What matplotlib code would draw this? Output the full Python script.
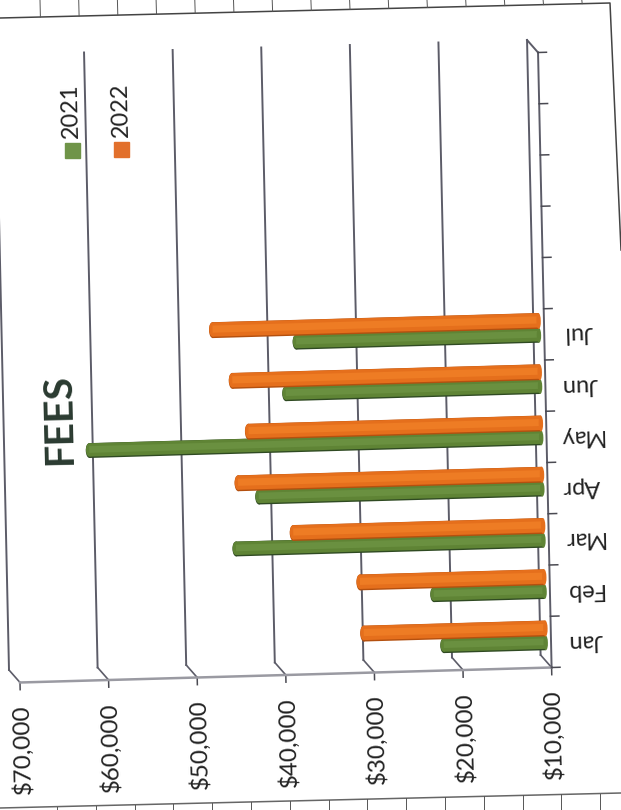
import numpy as np
import matplotlib
matplotlib.use('Agg')
import matplotlib.pyplot as plt
from matplotlib.patches import Ellipse
from matplotlib.transforms import Affine2D

# scanned page, chart sits on its side so everything goes through a skewed transform
months = ['Jan', 'Feb', 'Mar', 'Apr', 'May', 'Jun', 'Jul']
fees_2021 = [21500, 22500, 44700, 42000, 61000, 38700, 37400]
fees_2022 = [30500, 30800, 38200, 44300, 43000, 44700, 46800]
value_ticks = [10000, 20000, 30000, 40000, 50000, 60000, 70000]
n_slots = 12

plt.rcParams['font.family'] = ['Lato', 'DejaVu Sans']

fig = plt.figure(figsize=(6.21, 8.10), dpi=100)
ax = fig.add_axes([0, 0, 1, 1])
ax.set_xlim(0, 621)
ax.set_ylim(810, 0)
ax.axis('off')
ax.set_autoscale_on(False)

# (value, category) -> scan pixels, back wall of the 3d box
ux, uy = -88.6 / 10000, 2.5 / 10000
vx, vy = -1.13, -51.25
x0, y0 = 540.6 - 10000 * ux, 655 - 10000 * uy
wall = Affine2D(np.array([[ux, vx, x0], [uy, vy, y0], [0, 0, 1]]))
dx, dy = 11.0, 12.5

back = wall + ax.transData
mid = wall.frozen().translate(dx / 2, dy / 2) + ax.transData
front = wall.frozen().translate(dx, dy) + ax.transData
# (value, depth) floor, depth 0 = back wall and 1 = front
floor = Affine2D(np.array([[ux, dx, x0], [uy, dy, y0], [0, 0, 1]])) + ax.transData
line_col = '#5c5c68'
edge_col = '#4a4a52'

# page edge and the ruled ticks of the sheet behind it
ax.plot([0, 610, 621], [18, 3, 250], color='#444444', lw=1.1, zorder=1)
ax.plot([0, 621], [808, 793], color='#666666', lw=1.1, zorder=1)
for x in np.arange(40, 600, 38.7):
    top_y = 18 - x * 15 / 610
    ax.plot([x, x + 0.4], [0, top_y], color='#555555', lw=0.7, zorder=1)
for x in np.arange(57, 621, 38.8):
    bot_y = 808 - x * 15 / 621
    ax.plot([x, x], [bot_y, 810], color='#555555', lw=0.7, zorder=1)

# gridlines with the little jog on to the floor
for v in value_ticks:
    ax.plot([v, v], [0, n_slots], color=line_col, lw=1.4, transform=back, zorder=2)
    ax.plot([v, v], [0, 1], color=line_col, lw=1.2, transform=floor, zorder=2)
    ax.plot([v, v], [0, -0.14], color=edge_col, lw=1.1, transform=front, zorder=2)
    ax.text(v, 0, '${:,}'.format(v), rotation=91.4, rotation_mode='anchor',
            ha='center', va='center', fontsize=17.5, color='#222222',
            transform=wall.frozen().translate(dx + 2, dy + 67) + ax.transData)

# floor front edge and category axis
ax.plot([10000, 70000], [0, 0], color='#9a9aa2', lw=1.8, transform=front, zorder=2)
ax.plot([10000, 10000], [0, n_slots], color=line_col, lw=1.4, transform=front, zorder=2)
top_jog = Affine2D(np.array([[ux, dx, x0 + n_slots * vx], [uy, dy, y0 + n_slots * vy], [0, 0, 1]])) + ax.transData
ax.plot([10000, 10000], [0, 1], color=line_col, lw=1.4, transform=top_jog, zorder=2)
for k in range(n_slots + 1):
    ax.plot([10000, 9050], [k, k], color=edge_col, lw=1.1, transform=front, zorder=2)


def draw_bars(vals, shift, dark, main, light, thick, z):
    cats = np.arange(len(vals)) + 0.5 + shift
    widths = [v - 10000 for v in vals]
    ax.barh(cats, widths, left=10000, height=thick, color=dark, transform=mid, zorder=z)
    ax.barh(cats + 0.012, widths, left=10000, height=thick * 0.9, color=main, transform=mid, zorder=z + 0.1)
    ax.barh(cats + 0.02, widths, left=10000, height=thick * 0.45, color=light, transform=mid, zorder=z + 0.2)
    for c, v in zip(cats, vals):
        ax.add_patch(Ellipse((v, c), 800, thick, facecolor=dark, transform=mid, zorder=z + 0.05))
        ax.add_patch(Ellipse((v, c + 0.012), 760, thick * 0.9, facecolor=main, transform=mid, zorder=z + 0.15))
        ax.add_patch(Ellipse((10000, c), 500, thick, facecolor=main, transform=mid, zorder=z + 0.3))


draw_bars(fees_2021, -0.14, '#2f4a22', '#5f8435', '#6a9040', 0.29, 3)
draw_bars(fees_2022, 0.14, '#b4500f', '#e56f1c', '#ee7c24', 0.31, 4)

for i, m in enumerate(months):
    ax.text(10000, i + 0.5, m, rotation=181.6, rotation_mode='anchor',
            ha='center', va='center', fontsize=17, color='#222222',
            transform=wall.frozen().translate(dx + 34, dy - 1) + ax.transData)

# title and legend are just placed on the sheet
ax.text(59, 419, 'FEES', rotation=91.4, rotation_mode='anchor', ha='center', va='center',
        fontsize=29, fontweight='bold', color='#2a3a30', zorder=6)
ax.text(71, 111, '2021', rotation=91.4, rotation_mode='anchor', ha='center', va='center',
        fontsize=17, color='#222222', zorder=6)
ax.text(121, 110, '2022', rotation=91.4, rotation_mode='anchor', ha='center', va='center',
        fontsize=17, color='#222222', zorder=6)
ax.fill([65, 80, 80, 65], [143, 143, 158, 158], color='#6f9448', zorder=6)
ax.fill([114, 129, 129, 114], [142, 142, 157, 157], color='#e2702c', zorder=6)

fig.savefig('out.png', dpi=100)
